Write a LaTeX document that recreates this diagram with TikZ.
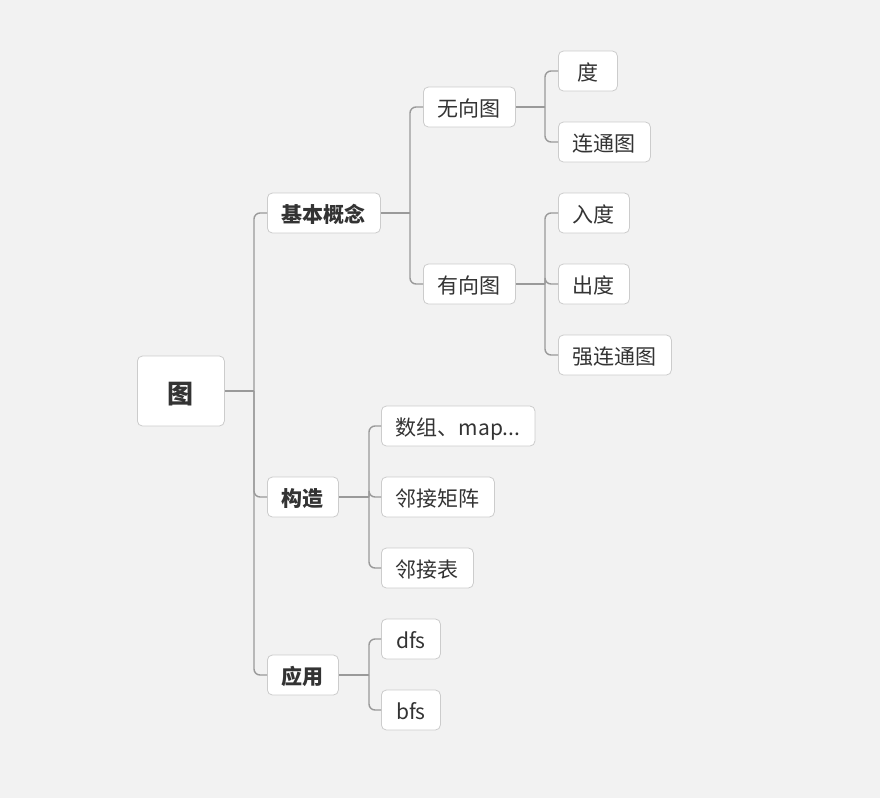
\documentclass[tikz,border=0pt]{standalone}
\usepackage{fontspec}
\setmainfont{Noto Sans CJK SC}
\definecolor{bgcol}{HTML}{F2F2F2}
\definecolor{boxline}{HTML}{CCCCCC}
\definecolor{wire}{HTML}{9A9A9A}
\definecolor{ink}{HTML}{333333}

\begin{document}
\begin{tikzpicture}[
    x=1pt, y=-1pt,
    topic/.style={
        draw=boxline,
        fill=white,
        rounded corners=5pt,
        line width=0.8pt,
        text=ink,
        font=\fontsize{21}{25}\selectfont,
        text height=19pt,
        text depth=0pt,
        minimum height=40pt,
        minimum width=59pt,
        inner xsep=14.5pt,
        anchor=west
    },
    maintopic/.style={
        topic,
        font=\bfseries\fontsize{21}{25}\selectfont
    },
    roottopic/.style={
        topic,
        font=\bfseries\fontsize{26}{30}\selectfont,
        text height=25pt,
        minimum width=87pt,
        minimum height=70pt
    },
    branch/.style={
        draw=wire,
        line width=1.4pt,
        rounded corners=6pt
    }
]

\fill[bgcol] (0,0) rectangle (880,798);
\useasboundingbox (0,0) rectangle (880,798);

% centre
\node[roottopic] (tu) at (137,391) {图};

% first level
\node[maintopic] (jbgn) at (267,213) {基本概念};
\node[maintopic] (gz) at (267,497) {构造};
\node[maintopic] (yy) at (267,675) {应用};

% second level
\node[topic] (wxt) at (423,107) {无向图};
\node[topic] (yxt) at (423,284) {有向图};
\node[topic] (sz) at (381,426) {数组、map...};
\node[topic] (ljjz) at (381,497) {邻接矩阵};
\node[topic] (ljb) at (381,568) {邻接表};
\node[topic] (dfs) at (381,639) {dfs};
\node[topic] (bfs) at (381,710) {bfs};

% third level
\node[topic] (du) at (558,71) {度};
\node[topic] (ltt) at (558,142) {连通图};
\node[topic] (rd) at (558,213) {入度};
\node[topic] (cd) at (558,284) {出度};
\node[topic] (qltt) at (558,355) {强连通图};

% branch points
\coordinate (j-tu) at (254,391);
\coordinate (j-jbgn) at (410,213);
\coordinate (j-wxt) at (545,107);
\coordinate (j-yxt) at (545,284);
\coordinate (j-gz) at (369,497);
\coordinate (j-yy) at (369,675);

\draw[branch] (tu.east) -- (j-tu);
\foreach \c in {jbgn,gz,yy}
    \draw[branch] (j-tu) |- (\c.west);

\draw[branch] (jbgn.east) -- (j-jbgn);
\foreach \c in {wxt,yxt}
    \draw[branch] (j-jbgn) |- (\c.west);

\draw[branch] (wxt.east) -- (j-wxt);
\foreach \c in {du,ltt}
    \draw[branch] (j-wxt) |- (\c.west);

\draw[branch] (yxt.east) -- (j-yxt);
\foreach \c in {rd,cd,qltt}
    \draw[branch] (j-yxt) |- (\c.west);

\draw[branch] (gz.east) -- (j-gz);
\foreach \c in {sz,ljjz,ljb}
    \draw[branch] (j-gz) |- (\c.west);

\draw[branch] (yy.east) -- (j-yy);
\foreach \c in {dfs,bfs}
    \draw[branch] (j-yy) |- (\c.west);

\end{tikzpicture}
\end{document}
